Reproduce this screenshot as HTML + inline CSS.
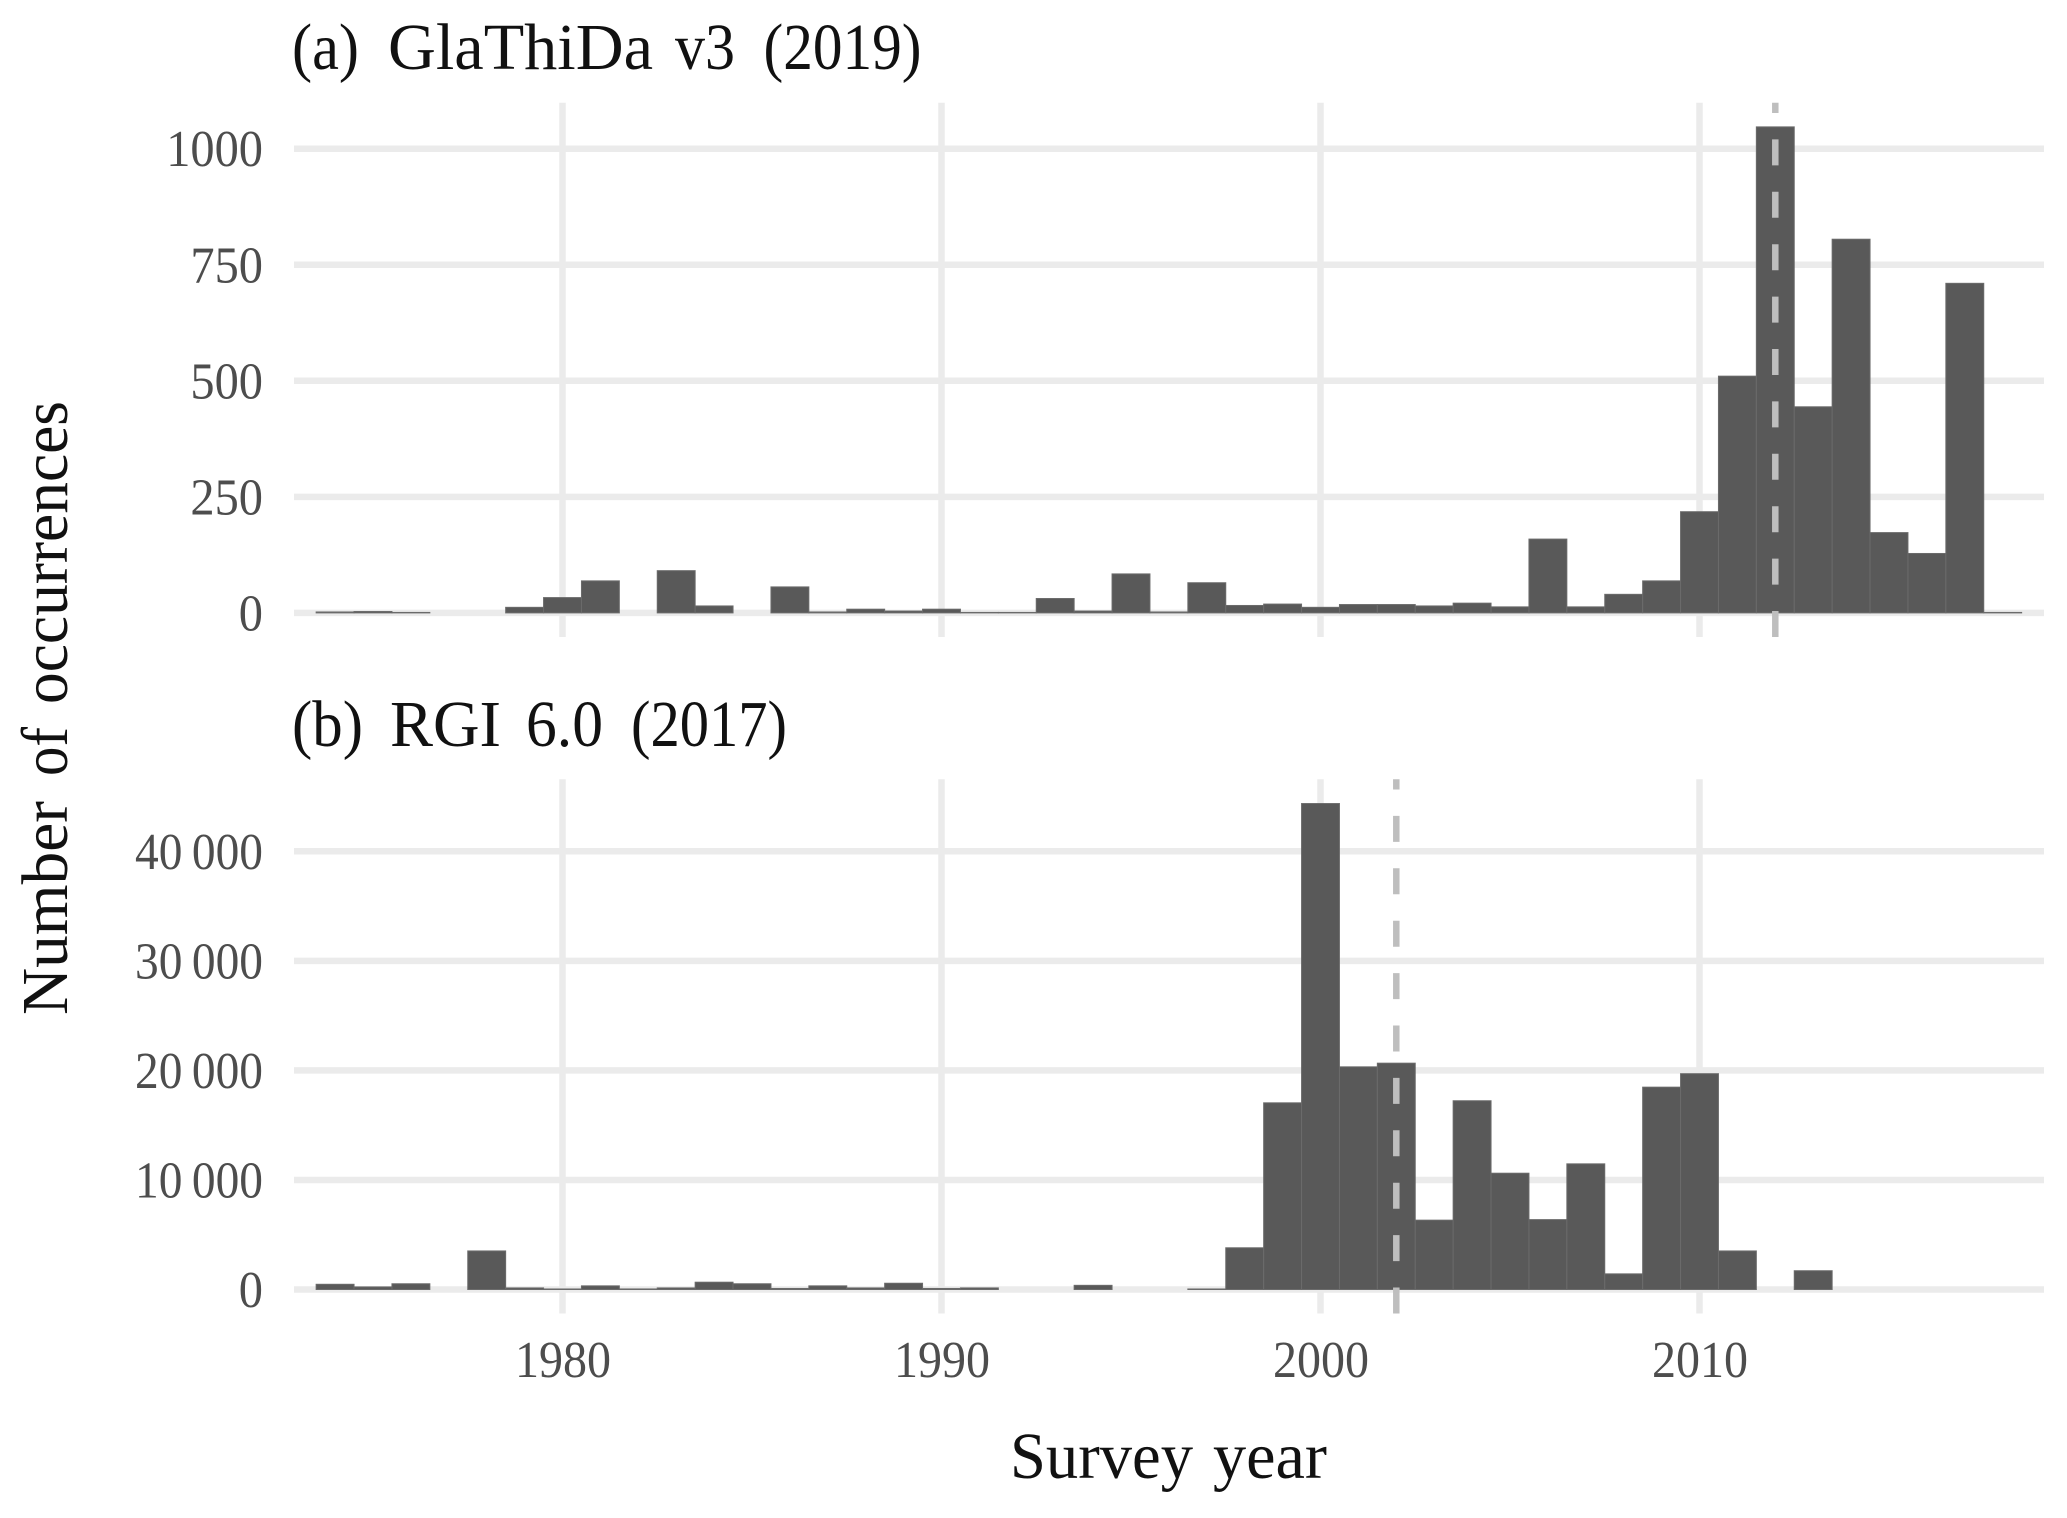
<!DOCTYPE html>
<html lang="en">
<head>
<meta charset="utf-8">
<title>Survey year histograms</title>
<style>
html,body{margin:0;padding:0;background:#fff;}
svg{display:block;}
text{font-family:"Liberation Serif",serif;}
.t{font-size:66px;fill:#111;}
.k{font-size:52px;fill:#4d4d4d;}
</style>
</head>
<body>
<svg id="chart" xmlns="http://www.w3.org/2000/svg" width="2067" height="1518" viewBox="0 0 2067 1518">
<rect width="2067" height="1518" fill="#fff"/>
<g id="panel-a"></g>
<g id="panel-b"></g>
<text class="t" y="69"><tspan x="292" textLength="67" lengthAdjust="spacingAndGlyphs">(a)</tspan> <tspan x="388" textLength="265" lengthAdjust="spacingAndGlyphs">GlaThiDa</tspan> <tspan x="675" textLength="60" lengthAdjust="spacingAndGlyphs">v3</tspan> <tspan x="763.5" textLength="158" lengthAdjust="spacingAndGlyphs">(2019)</tspan></text>
<text class="t" y="746"><tspan x="292" textLength="71" lengthAdjust="spacingAndGlyphs">(b)</tspan> <tspan x="390" textLength="111" lengthAdjust="spacingAndGlyphs">RGI</tspan> <tspan x="526" textLength="77" lengthAdjust="spacingAndGlyphs">6.0</tspan> <tspan x="631" textLength="156" lengthAdjust="spacingAndGlyphs">(2017)</tspan></text>
<text class="t" transform="translate(67,0) rotate(-90)" y="0"><tspan x="-1015" textLength="214" lengthAdjust="spacingAndGlyphs">Number</tspan> <tspan x="-776" textLength="49" lengthAdjust="spacingAndGlyphs">of</tspan> <tspan x="-704" textLength="303" lengthAdjust="spacingAndGlyphs">occurrences</tspan></text>
<text class="t" y="1478"><tspan x="1010" textLength="183" lengthAdjust="spacingAndGlyphs">Survey</tspan> <tspan x="1213" textLength="114" lengthAdjust="spacingAndGlyphs">year</tspan></text>
</svg>
<script>
// Histogram bins (survey years)
const years = [1974,1975,1976,1977,1978,1979,1980,1981,1982,1983,1984,1985,1986,1987,1988,1989,1990,1991,1992,1993,1994,1995,1996,1997,1998,1999,2000,2001,2002,2003,2004,2005,2006,2007,2008,2009,2010,2011,2012,2013,2014,2015,2016,2017,2018];
// Panel (a) GlaThiDa v3 occurrences per year
const glathidaCounts = [2,3,1,0,0,12,33,69,0,91,15,0,56,2,8,4,8,1,1,31,4,84,2,65,16,19,12,18,18,15,21,13,159,13,40,69,218,510,1047,444,805,173,128,710,1];
// Panel (b) RGI 6.0 occurrences per year
const rgiCounts = [476,238,524,0,3520,143,48,333,50,143,666,524,95,333,143,571,95,143,0,0,380,0,0,48,3808,17040,44360,20325,20660,6330,17230,10615,6380,11470,1428,18470,19700,3520,0,1714,0,0,0,0,0];
// Axis ticks and labels
const xTicks = [1980,1990,2000,2010];
const xTickLabels = ["1980","1990","2000","2010"];
const glathidaYTicks = [0,250,500,750,1000];
const glathidaYLabels = ["0","250","500","750","1000"];
const rgiYTicks = [0,10000,20000,30000,40000];
const rgiYLabels = ["0","10\u2009000","20\u2009000","30\u2009000","40\u2009000"];
// Median survey years (dashed reference lines)
const glathidaMedianYear = 2012;
const rgiMedianYear = 2002;

const NS = "http://www.w3.org/2000/svg";
const xScale = function (year) { return 562.5 + (year - 1980) * 37.9; };
const PANEL_LEFT = 294, PANEL_RIGHT = 2044;

function make(parent, tag, attrs) {
  const el = document.createElementNS(NS, tag);
  for (const k in attrs) el.setAttribute(k, attrs[k]);
  parent.appendChild(el);
  return el;
}

function drawPanel(group, counts, yTicks, yLabels, median, yScale, top, bottom, showXLabels) {
  yTicks.forEach(function (v, i) {
    const line = make(group, "line", {x1: PANEL_LEFT, x2: PANEL_RIGHT, y1: yScale(v), y2: yScale(v), stroke: "#ebebeb", "stroke-width": 6.5});
    
    
    const label = make(group, "text", {class: "k", x: 263, y: yScale(v) + 17.5, "text-anchor": "end", textLength: yLabels[i].length >= 5 ? 128 : yLabels[i].length * 24.2, lengthAdjust: "spacingAndGlyphs"});
    label.textContent = yLabels[i];
    
    
  });
  xTicks.forEach(function (t, i) {
    const line = make(group, "line", {x1: xScale(t), x2: xScale(t), y1: top, y2: bottom, stroke: "#ebebeb", "stroke-width": 6.5});
    
    
    if (showXLabels) {
      const label = make(group, "text", {class: "k", x: xScale(t) + 0.5, y: 1377, "text-anchor": "middle", textLength: 96, lengthAdjust: "spacingAndGlyphs"});
      label.textContent = xTickLabels[i];
      
      
    }
  });
  const zero = yScale(0);
  years.forEach(function (year, i) {
    const value = counts[i];
    if (value <= 0) return;
    const h = zero - yScale(value);
    const bar = make(group, "rect", {x: xScale(year - 0.5), y: yScale(value), width: 37.9, height: h, fill: "#595959", stroke: "#6b6b6b", "stroke-width": 1});
    
    
  });
  const vline = make(group, "line", {x1: xScale(median), x2: xScale(median), y1: bottom, y2: top, stroke: "#bebebe", "stroke-width": 6.5, "stroke-dasharray": "26 26.4"});
  
  
}

const yScaleA = function (v) { return 612.9 - v * 0.4642; };
const yScaleB = function (v) { return 1289.5 - v * 0.010955; };
drawPanel(document.getElementById("panel-a"), glathidaCounts, glathidaYTicks, glathidaYLabels, glathidaMedianYear, yScaleA, 102.7, 637, false);
drawPanel(document.getElementById("panel-b"), rgiCounts, rgiYTicks, rgiYLabels, rgiMedianYear, yScaleB, 779.3, 1313.5, true);
</script>
</body>
</html>
